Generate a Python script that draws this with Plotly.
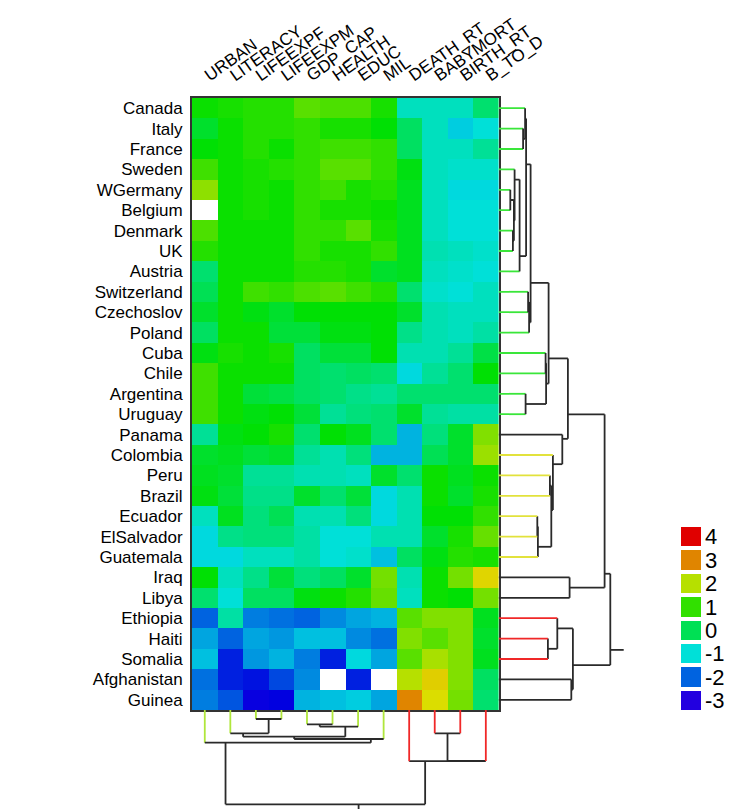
import colorsys
import plotly.graph_objects as go

nan = float("nan")

countries = ["Canada", "Italy", "France", "Sweden", "WGermany", "Belgium", "Denmark", "UK",
             "Austria", "Switzerland", "Czechoslov", "Poland", "Cuba", "Chile", "Argentina",
             "Uruguay", "Panama", "Colombia", "Peru", "Brazil", "Ecuador", "ElSalvador",
             "Guatemala", "Iraq", "Libya", "Ethiopia", "Haiti", "Somalia", "Afghanistan", "Guinea"]

variables = ["URBAN", "LITERACY", "LIFEEXPF", "LIFEEXPM", "GDP_CAP", "HEALTH", "EDUC", "MIL",
             "DEATH_RT", "BABYMORT", "BIRTH_RT", "B_TO_D"]

# standardized values (rows = countries, columns = variables)
z_values = [
    [0.7, 0.8, 0.9, 0.9, 1.3, 1.2, 1.2, 0.8, -0.8, -0.8, -0.8, -0.2],    # Canada
    [0.3, 0.7, 0.9, 0.9, 1.0, 0.8, 0.8, 0.6, -0.1, -0.8, -1.2, -1.0],    # Italy
    [0.6, 0.7, 0.9, 0.7, 1.0, 1.1, 1.1, 1.0, -0.1, -0.8, -0.8, -0.5],    # France
    [1.1, 0.7, 0.8, 0.9, 1.0, 1.3, 1.3, 1.0, 0.5, -0.8, -0.9, -0.9],     # Sweden
    [1.7, 0.7, 0.8, 0.7, 1.0, 1.1, 0.8, 0.9, 0.4, -0.8, -1.1, -1.1],     # WGermany
    [nan, 0.7, 0.8, 0.7, 1.0, 0.8, 0.8, 0.7, 0.4, -0.8, -1.0, -1.0],     # Belgium
    [1.2, 0.7, 0.7, 0.7, 1.0, 1.0, 1.3, 0.8, 0.4, -0.8, -1.0, -1.0],     # Denmark
    [0.9, 0.7, 0.7, 0.7, 1.0, 0.8, 0.8, 1.0, 0.4, -0.7, -0.8, -0.9],     # UK
    [-0.2, 0.7, 0.7, 0.7, 0.9, 0.9, 0.8, 0.3, 0.4, -0.8, -0.9, -1.0],    # Austria
    [0.0, 0.7, 1.1, 1.0, 1.2, 1.3, 1.1, 0.9, -0.2, -0.9, -1.0, -0.8],    # Switzerland
    [0.3, 0.7, 0.5, 0.3, 0.6, 0.6, 0.6, 0.6, 0.3, -0.7, -0.8, -0.8],     # Czechoslov
    [-0.1, 0.7, 0.7, 0.2, 0.2, 0.5, 0.5, 0.6, -0.4, -0.7, -0.8, -0.6],   # Poland
    [0.5, 0.8, 0.7, 0.8, -0.1, 0.2, 0.2, 0.6, -0.7, -0.7, -0.5, 0.1],    # Cuba
    [1.1, 0.7, 0.7, 0.7, -0.1, -0.2, -0.1, -0.2, -1.1, -0.5, -0.2, 0.6], # Chile
    [1.1, 0.7, 0.2, 0.1, -0.1, -0.2, -0.4, -0.5, -0.2, -0.2, -0.2, -0.2],# Argentina
    [1.1, 0.7, 0.5, 0.6, 0.2, -0.5, -0.3, -0.2, 0.3, -0.5, -0.6, -0.6],  # Uruguay
    [-0.5, 0.5, 0.6, 0.8, -0.2, 0.6, 0.4, -0.2, -1.4, -0.3, 0.3, 1.6],   # Panama
    [0.3, 0.4, 0.2, 0.3, -0.5, -0.7, -0.3, -1.4, -1.4, 0.0, 0.3, 1.8],   # Colombia
    [0.4, 0.3, -0.5, -0.5, -0.7, -0.7, -0.8, 0.3, -0.2, 0.7, 0.4, 0.7],  # Peru
    [0.5, 0.2, -0.4, -0.4, 0.3, -0.2, 0.2, -1.1, -0.7, 0.7, 0.3, 0.8],   # Brazil
    [-0.8, 0.4, -0.3, 0.0, -0.7, -0.7, -0.3, -1.1, -0.7, 0.6, 0.6, 1.0], # Ecuador
    [-1.1, -0.4, -0.3, -0.3, -0.6, -1.0, -1.0, -0.7, -0.7, 0.3, 0.8, 1.4],  # ElSalvador
    [-1.1, -1.1, -0.8, -0.8, -0.6, -1.0, -0.9, -1.3, -0.1, 0.5, 0.9, 0.8],  # Guatemala
    [0.6, -0.8, -0.4, 0.2, -0.3, -0.1, 0.3, 1.5, -0.7, 0.7, 1.5, 2.4],   # Iraq
    [-0.2, -1.0, -0.1, -0.1, 0.5, 0.7, 0.9, 1.4, -0.8, 0.7, 0.6, 1.5],   # Libya
    [-2.0, -0.6, -1.8, -1.9, -2.0, -1.7, -1.5, -1.4, 1.3, 1.6, 1.6, 0.4],  # Ethiopia
    [-1.5, -2.0, -1.5, -1.6, -1.3, -1.3, -1.7, -1.9, 1.6, 1.3, 1.6, 0.3],  # Haiti
    [-1.3, -2.5, -1.6, -1.4, -1.8, -2.5, -1.1, -1.5, 1.3, 1.9, 1.6, 0.4],  # Somalia
    [-1.9, -2.5, -2.6, -2.2, -1.7, nan, -2.5, nan, 2.0, 2.45, 1.6, -0.1],  # Afghanistan
    [-1.8, -2.1, -2.8, -2.75, -1.4, -1.3, -1.2, -1.5, 3.0, 2.3, 1.5, -0.2],  # Guinea
]

# row (country) clustering: (child a, child b, merge height); nodes numbered from 30
row_merges = [
    (4, 5, 11.7), (6, 7, 14.3), (30, 31, 15.3), (3, 32, 16.0), (33, 8, 21.0),
    (1, 2, 24.5), (0, 35, 26.5), (36, 34, 27.5), (9, 10, 29.5), (38, 11, 30.5),
    (37, 39, 32.0), (12, 13, 47.0), (14, 15, 27.0), (41, 42, 47.5), (40, 43, 50.0),
    (20, 21, 38.7), (45, 22, 39.3), (18, 19, 51.3), (47, 46, 52.7), (17, 48, 54.3),
    (16, 49, 63.7), (44, 50, 69.3), (23, 24, 71.0), (51, 52, 106.0), (26, 27, 49.3),
    (25, 54, 58.7), (28, 29, 72.7), (55, 56, 74.3), (53, 57, 111.7),
]
row_cluster = [1] * 16 + [0] + [2] * 6 + [0, 0] + [3] * 3 + [0, 0]

# column (variable) clustering; nodes numbered from 12
col_merges = [
    (2, 3, 9.0), (1, 12, 23.3), (4, 5, 14.3), (14, 6, 16.7), (13, 15, 26.7),
    (16, 7, 29.0), (0, 17, 32.7), (9, 10, 23.3), (19, 11, 51.0), (8, 20, 51.2),
    (18, 21, 94.3),
]
col_cluster = [1] * 8 + [2] * 4

legend_values = [4, 3, 2, 1, 0, -1, -2, -3]

ZMIN, ZMAX = -3, 4


def hue_color(v):
    h = (ZMAX - v) * 35.6 / 360.0
    r, g, b = colorsys.hsv_to_rgb(h, 1.0, 0.878)
    return "rgb(%d,%d,%d)" % (round(r * 255), round(g * 255), round(b * 255))


n_steps = 56
colorscale = []
for i in range(n_steps + 1):
    v = ZMIN + (ZMAX - ZMIN) * i / n_steps
    colorscale.append([i / n_steps, hue_color(v)])


def dendro(n, merges, groups):
    pos = {i: float(i) for i in range(n)}
    hgt = {i: 0.0 for i in range(n)}
    cnt = {i: 1 for i in range(n)}
    segs = {}

    def add(g, p0, h0, p1, h1):
        s = segs.setdefault(g, ([], []))
        s[0].extend([p0, p1, None])
        s[1].extend([h0, h1, None])

    for k, (a, b, h) in enumerate(merges):
        node = n + k
        for c in (a, b):
            g = groups[c] if c < n else 0
            add(g, pos[c], hgt[c], pos[c], h)
        add(0, pos[a], h, pos[b], h)
        pos[node] = (pos[a] * cnt[b] + pos[b] * cnt[a]) / (cnt[a] + cnt[b])
        hgt[node] = h
        cnt[node] = cnt[a] + cnt[b]
    root = n + len(merges) - 1
    add(0, pos[root], hgt[root], pos[root], hgt[root] * 1.12)
    return segs


# the page body adds an 8px margin; lay out in window pixels and convert
OFF = 8
W, H = 747 - OFF, 809 - OFF


def px(x):
    return (x - OFF) / W


def py(y):
    return 1 - (y - OFF) / H


hm_x = [px(192), px(498.6)]
hm_y = [py(710), py(98)]
FONT = "Arial, 'Liberation Sans', Helvetica, sans-serif"

fig = go.Figure()

fig.add_trace(go.Heatmap(
    z=z_values, x=list(range(len(variables))), y=list(range(len(countries))),
    colorscale=colorscale, zmin=ZMIN, zmax=ZMAX, showscale=False,
    xaxis="x", yaxis="y", hoverongaps=False))

row_colors = {0: "#2a2a2a", 1: "#3ae63a", 2: "#e2e23c", 3: "#f02828"}
for g, (p, h) in dendro(len(countries), row_merges, row_cluster).items():
    fig.add_trace(go.Scatter(x=h, y=p, mode="lines", line=dict(color=row_colors[g], width=1.8),
                             xaxis="x2", yaxis="y2", showlegend=False, hoverinfo="skip"))

col_colors = {0: "#2a2a2a", 1: "#b0e63c", 2: "#f02828"}
for g, (p, h) in dendro(len(variables), col_merges, col_cluster).items():
    fig.add_trace(go.Scatter(x=p, y=h, mode="lines", line=dict(color=col_colors[g], width=1.8),
                             xaxis="x3", yaxis="y3", showlegend=False, hoverinfo="skip"))

fig.add_trace(go.Heatmap(
    z=[[v] for v in legend_values], x=[0], y=list(range(len(legend_values))),
    colorscale=colorscale, zmin=ZMIN, zmax=ZMAX, showscale=False, ygap=4,
    xaxis="x4", yaxis="y4"))

hidden = dict(visible=False, showgrid=False, zeroline=False, automargin=False)

fig.update_layout(
    width=W, height=H, margin=dict(l=0, r=0, t=0, b=0, autoexpand=False),
    paper_bgcolor="white", plot_bgcolor="white", showlegend=False,
    font=dict(family=FONT, color="black"),
    xaxis=dict(domain=hm_x, range=[-0.5, 11.5], side="top", tickmode="array",
               tickvals=list(range(len(variables))), ticktext=variables, tickangle=-35,
               tickfont=dict(size=17), ticks="", ticklabelstandoff=6,
               showline=True, mirror=True, linecolor="#333", linewidth=2,
               showgrid=False, zeroline=False, anchor="y", automargin=False),
    yaxis=dict(domain=hm_y, range=[29.5, -0.5], tickmode="array",
               tickvals=list(range(len(countries))), ticktext=countries,
               tickfont=dict(size=17), ticks="", ticklabelstandoff=4,
               showline=True, mirror=True, linecolor="#333", linewidth=2,
               showgrid=False, zeroline=False, anchor="x", automargin=False),
    xaxis2=dict(domain=[px(498.6), px(630)], range=[0, 131.4], anchor="y2", **hidden),
    yaxis2=dict(domain=hm_y, range=[29.5, -0.5], anchor="x2", **hidden),
    xaxis3=dict(domain=hm_x, range=[-0.5, 11.5], anchor="y3", **hidden),
    yaxis3=dict(domain=[0, py(710)], range=[99, 0], anchor="x3", **hidden),
    xaxis4=dict(domain=[px(681), px(701)], range=[-0.5, 0.5], anchor="y4", **hidden),
    yaxis4=dict(domain=[py(712), py(525)], range=[7.5, -0.5], anchor="x4",
                side="right", tickmode="array", tickvals=list(range(len(legend_values))),
                ticktext=[str(v) for v in legend_values], tickfont=dict(size=22),
                ticks="", ticklabelstandoff=3, showline=False, showgrid=False,
                zeroline=False, automargin=False),
)

fig.write_html("out.html")
